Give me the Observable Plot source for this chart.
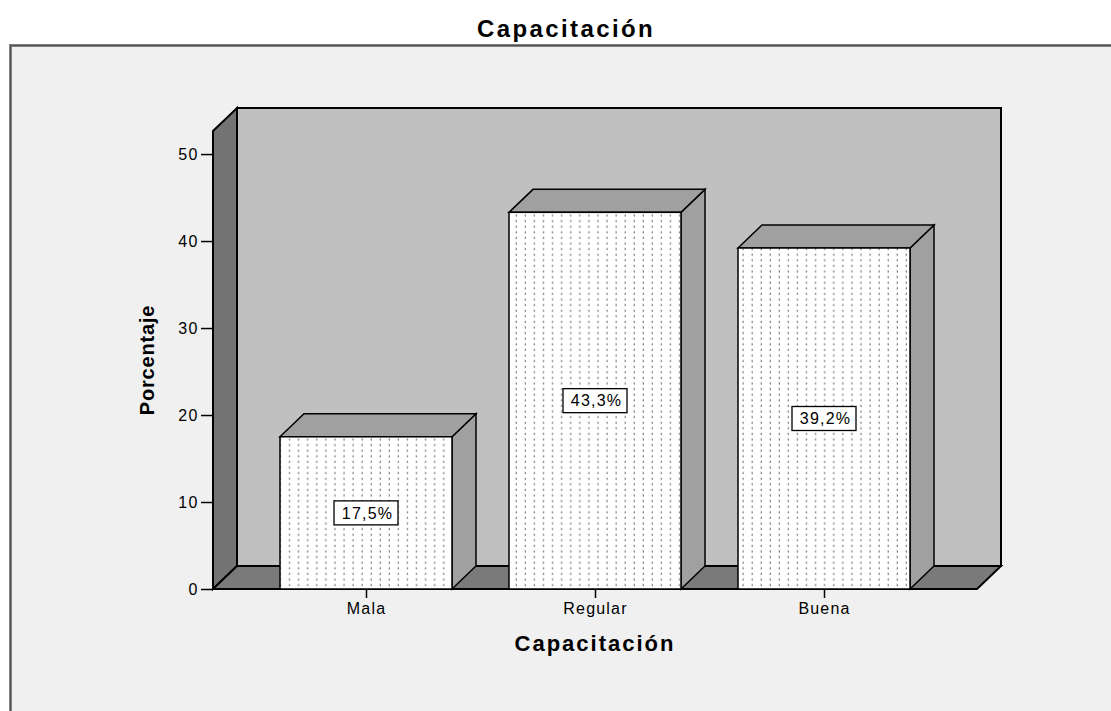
<!DOCTYPE html>
<html><head><meta charset="utf-8">
<script src="https://cdn.jsdelivr.net/npm/d3@7"></script>
<script src="https://cdn.jsdelivr.net/npm/@observablehq/plot@0.6"></script>
<style>
html,body{margin:0;padding:0;background:#fff;}
#chart svg{display:block;}
#chart svg text{letter-spacing:1.2px;}
</style></head><body><div id="chart"></div>
<script>
// ---- data ----
const chartTitle = "Capacitación";
const xTitle = "Capacitación";
const yTitle = "Porcentaje";
const categories = ["Mala", "Regular", "Buena"];
const percents = [17.5, 43.3, 39.2];
const valueLabels = ["17,5%", "43,3%", "39,2%"];
const yTicks = [0, 10, 20, 30, 40, 50];

const data = categories.map((c, i) => ({cat: c, pct: percents[i], label: valueLabels[i]}));

// ---- styling ----
const W = 1111, H = 711;
const DX = 24, DY = 23;          // 3D depth offset in pixels
const NS = "http://www.w3.org/2000/svg";
const FONT = "'Liberation Sans', Arial, sans-serif";
function el(tag, attrs, parent) {
  const e = document.createElementNS(NS, tag);
  for (const k in attrs) e.setAttribute(k, attrs[k]);
  if (parent) parent.appendChild(e);
  return e;
}
function poly(pts, fill, parent, sw = 1.5) {
  return el("polygon", {points: pts.map(p => p.join(",")).join(" "), fill, stroke: "#000", "stroke-width": sw, "stroke-linejoin": "miter"}, parent);
}

const chart = Plot.plot({
  width: W, height: H,
  marginLeft: 213, marginRight: 134, marginTop: 131, marginBottom: 122,
  style: {background: "#fff", fontFamily: FONT, color: "#000", fontSize: "16px"},
  x: {domain: categories, paddingInner: 0.25, paddingOuter: 0.29, label: null},
  y: {domain: [0, 52.65], label: null},
  marks: [
    // outer panel
    () => {
      const g = el("g", {});
      el("rect", {x: 10, y: 45, width: W, height: H, fill: "#f0f0f0"}, g);
      el("path", {d: `M10.5,${H} V45.5 H${W}`, fill: "none", stroke: "#8a8a8a", "stroke-width": 3}, g);
      el("path", {d: `M10.5,${H} V45.5 H${W}`, fill: "none", stroke: "#555", "stroke-width": 1.3}, g);
      const defs = el("defs", {}, g);
      const pat = el("pattern", {id: "dots", patternUnits: "userSpaceOnUse", x: 0, y: 0, width: 9.07, height: 5.6}, defs);
      el("rect", {width: 9.07, height: 5.6, fill: "#fff"}, pat);
      el("rect", {x: 7.8, y: 1.6, width: 2, height: 2.2, fill: "#858585"}, pat);
      return g;
    },
    // 3D walls and floor
    (index, scales) => {
      const g = el("g", {});
      const [x0, x1] = scales.x.range();
      const y0 = scales.y(0), yt = scales.y(scales.y.domain()[1]);
      poly([[x0 + DX, yt - DY], [x1 + DX, yt - DY], [x1 + DX, y0 - DY], [x0 + DX, y0 - DY]], "#c0c0c0", g, 2);
      poly([[x0, yt], [x0 + DX, yt - DY], [x0 + DX, y0 - DY], [x0, y0]], "#737373", g, 2);
      poly([[x0, y0], [x0 + DX, y0 - DY], [x1 + DX, y0 - DY], [x1, y0]], "#7a7a7a", g, 2);
      return g;
    },
    // bar tops and sides
    (index, scales) => {
      const g = el("g", {});
      const bw = scales.x.bandwidth();
      const y0 = scales.y(0);
      for (const d of data) {
        const a = scales.x(d.cat), b = a + bw, t = scales.y(d.pct);
        poly([[b, t], [b + DX, t - DY], [b + DX, y0 - DY], [b, y0]], "#a0a0a0", g);
        poly([[a, t], [a + DX, t - DY], [b + DX, t - DY], [b, t]], "#a0a0a0", g);
      }
      return g;
    },
    // bar fronts
    Plot.barY(data, {x: "cat", y: "pct", fill: "url(#dots)", stroke: "#000", strokeWidth: 1.5}),
    // label boxes
    (index, scales) => {
      const g = el("g", {});
      const bw = scales.x.bandwidth();
      for (const d of data) {
        const cx = scales.x(d.cat) + bw / 2, cy = scales.y(d.pct / 2);
        el("rect", {x: cx - 32, y: cy - 12, width: 64, height: 24, fill: "#fff", stroke: "#000", "stroke-width": 1.3}, g);
      }
      return g;
    },
    Plot.text(data, {x: "cat", y: d => d.pct / 2, text: "label", fontSize: 16, fill: "#000", dx: 1}),
    Plot.axisY({ticks: yTicks, tickSize: 12, tickPadding: 3, fontSize: 16, label: null, strokeWidth: 1.5}),
    Plot.axisX({tickSize: 9, tickPadding: 4, fontSize: 16, label: null, strokeWidth: 1.5}),
    // titles
    () => {
      const g = el("g", {fill: "#000", "font-weight": "bold", "font-family": FONT});
      const t = el("text", {x: 566, y: 37, "text-anchor": "middle", "font-size": 24, style: "letter-spacing:2.4px"}, g);
      t.textContent = chartTitle;
      const xl = el("text", {x: 595, y: 651, "text-anchor": "middle", "font-size": 22, style: "letter-spacing:2px"}, g);
      xl.textContent = xTitle;
      const yl = el("text", {transform: "translate(154,360) rotate(-90)", "text-anchor": "middle", "font-size": 20, style: "letter-spacing:0.8px"}, g);
      yl.textContent = yTitle;
      return g;
    }
  ]
});
document.getElementById("chart").appendChild(chart);
</script>
</body></html>
